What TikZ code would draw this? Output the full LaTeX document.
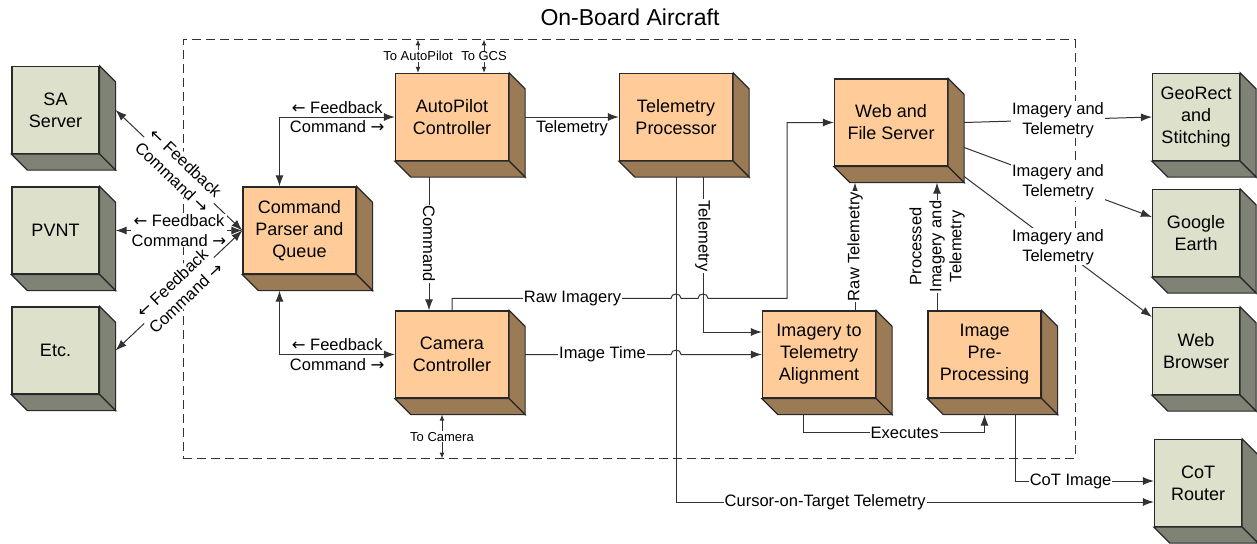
\documentclass[tikz,border=0pt]{standalone}
\usepackage{fontspec}
\setmainfont{Liberation Sans}
\newfontfamily\arrowfont{DejaVu Sans}
\usetikzlibrary{arrows.meta}
\definecolor{org}{RGB}{255,204,153}
\definecolor{orgside}{RGB}{155,122,86}
\definecolor{gry}{RGB}{221,224,203}
\definecolor{gryside}{RGB}{127,131,118}
\definecolor{edge}{RGB}{40,40,40}
\definecolor{lnc}{RGB}{50,50,50}
\newcommand{\dep}{16}
\newcommand{\boxfont}{\fontsize{18}{22}\selectfont}
\newcommand{\lblfont}{\fontsize{16.5}{20}\selectfont}
\newcommand{\tinyfont}{\fontsize{13}{15}\selectfont}
\newcommand{\lft}{{\arrowfont ←}}
\newcommand{\rgt}{{\arrowfont →}}

\begin{document}
\begin{tikzpicture}
  [x=1pt, y=-1pt, line width=1pt, draw=lnc, >={Latex[length=11pt,width=8pt]},
   lbl/.style={font=\lblfont, fill=white, inner sep=1pt},
   tiny/.style={font=\tinyfont, fill=white, inner sep=1pt},
   sarr/.style={arrows={Latex[length=6pt,width=5pt]-Latex[length=6pt,width=5pt]}},
   cube/.style={draw=edge, line width=1.2pt, minimum width=#1, minimum height=87pt,
     align=center, inner sep=0pt, font=\boxfont}]
  \useasboundingbox (0,0) rectangle (1257,543);
  \node[draw=lnc, dash pattern=on 9pt off 5pt, minimum width=892pt,
    minimum height=418pt] (board) at (629,249) {};
  \node[font=\fontsize{23}{27}\selectfont] (ttl) at (630,17) {On-Board Aircraft};

  % systems outside the aircraft
  \foreach \nm/\x/\y/\txt in {sa/55.5/110/{SA\\Server}, pv/55.5/230.5/PVNT,
      etc/55.5/350.5/Etc., geo/1196/117/{GeoRect\\and\\Stitching},
      ge/1196/233/{Google\\Earth}, wb/1196/351/{Web\\Browser},
      cot/1198/483/{CoT\\Router}}{
    \node[cube=87pt, fill=gry] (\nm) at (\x,\y) {\txt};
    \filldraw[fill=gryside, draw=edge, line width=1.2pt] (\nm.north east) -- ++(\dep,\dep)
      -- ([shift={(\dep,\dep)}]\nm.south east) -- (\nm.south east) -- cycle;
    \filldraw[fill=gryside, draw=edge, line width=1.2pt] (\nm.south west) -- ++(\dep,\dep)
      -- ([shift={(\dep,\dep)}]\nm.south east) -- (\nm.south east) -- cycle;}

  % on-board processes
  \foreach \nm/\x/\y/\txt in {cmd/299.5/230.5/{Command\\Parser and\\Queue},
      ap/452/117/{AutoPilot\\Controller}, tp/676/117/{Telemetry\\Processor},
      cam/452/354.5/{Camera\\Controller}, itt/819/354.5/{Imagery to\\Telemetry\\Alignment},
      web/891/122.5/{Web and\\File Server}, pre/984.5/354.5/{Image\\Pre-\\Processing}}{
    \node[cube=113pt, fill=org] (\nm) at (\x,\y) {\txt};
    \filldraw[fill=orgside, draw=edge, line width=1.2pt] (\nm.north east) -- ++(\dep,\dep)
      -- ([shift={(\dep,\dep)}]\nm.south east) -- (\nm.south east) -- cycle;
    \filldraw[fill=orgside, draw=edge, line width=1.2pt] (\nm.south west) -- ++(\dep,\dep)
      -- ([shift={(\dep,\dep)}]\nm.south east) -- (\nm.south east) -- cycle;}

  % command links
  \foreach \s in {sa,pv,etc}{
    \draw[<->] ([xshift=\dep pt]\s.east) -- node[lbl,sloped,align=center,inner sep=.5pt]
      {\lft\ Feedback\\Command \rgt} (cmd.west);}
  \draw[<->] ([xshift=-20pt]cmd.north) |- node[pos=.75,above,font=\lblfont]{\lft\ Feedback}
    node[pos=.75,below,font=\lblfont]{Command \rgt} (ap.west);
  \draw[<->] ([xshift=-20pt,yshift=-\dep pt]cmd.south) |- node[pos=.75,above,font=\lblfont]{\lft\ Feedback}
    node[pos=.75,below,font=\lblfont]{Command \rgt} (cam.west);
  \draw[sarr] ([xshift=-34pt]ap.north) -- node[tiny]{To AutoPilot} ([xshift=-34pt]ap.north |- board.north);
  \draw[sarr] ([xshift=32pt]ap.north) -- node[tiny]{To GCS} ([xshift=32pt]ap.north |- board.north);
  \draw[sarr] ([xshift=-10pt,yshift=-\dep pt]cam.south) -- node[tiny]{To Camera}
    ([xshift=-10pt]cam.south |- board.south);
  \draw[->] ([xshift=-23pt,yshift=-\dep pt]ap.south) -- node[lbl,rotate=-90]{Command}
    ([xshift=-23pt]cam.north);

  % data links
  \draw[->] ([xshift=\dep pt]ap.east) -- node[below,font=\lblfont]{Telemetry} (tp.west);
  \draw[->] (cam.north) -- ++(0,-12) -- node[lbl,pos=.55]{Raw Imagery} ++(219,0)
    to[out=90,in=90,looseness=1.5] ++(10,0) -- ++(17,0)
    to[out=90,in=90,looseness=1.5] ++(10,0) -- ++(79,0) |- (web.west);
  \draw[->] ([xshift=\dep pt]cam.east) -- node[lbl,pos=.53]{Image Time} ++(146,0)
    to[out=90,in=90,looseness=1.5] ++(10,0) -- (itt.west);
  \draw[->] ([xshift=27pt,yshift=-\dep pt]tp.south) |- node[lbl,pos=.19,rotate=-90]{Telemetry}
    ([yshift=22.5pt]itt.west);
  \draw[->] ([yshift=-\dep pt]tp.south) |- node[lbl,pos=.656]{Cursor-on-Target Telemetry}
    ([yshift=-19pt]cot.west);
  \draw[->] ([xshift=36pt]itt.north) -- node[lbl,rotate=90]{Raw Telemetry}
    ([xshift=-36pt,yshift=-\dep pt]web.south);
  \draw[->] ([xshift=-47.5pt]pre.north) -- node[lbl,rotate=90,align=center]
    {Processed\\Imagery and\\Telemetry} ([xshift=46pt,yshift=-\dep pt]web.south);
  \draw[->] ([xshift=-16pt,yshift=-\dep pt]itt.south) -- ++(0,18)
    -| node[lbl,pos=.28]{Executes} ([yshift=-\dep pt]pre.south);
  \draw[->] ([xshift=30.5pt,yshift=-\dep pt]pre.south) |- node[lbl,pos=.7]{CoT Image}
    ([yshift=2pt]cot.west);

  % outputs
  \draw[->] ([xshift=\dep pt]web.east) -- node[lbl,align=center]{Imagery and\\Telemetry} (geo.west);
  \draw[->] ([xshift=\dep pt,yshift=-25pt]web.east) -- node[lbl,align=center]{Imagery and\\Telemetry}
    ([yshift=16pt]ge.west);
  \draw[->] ([xshift=\dep pt,yshift=-54pt]web.east) -- node[lbl,align=center]{Imagery and\\Telemetry}
    ([yshift=34pt]wb.west);
\end{tikzpicture}
\end{document}
